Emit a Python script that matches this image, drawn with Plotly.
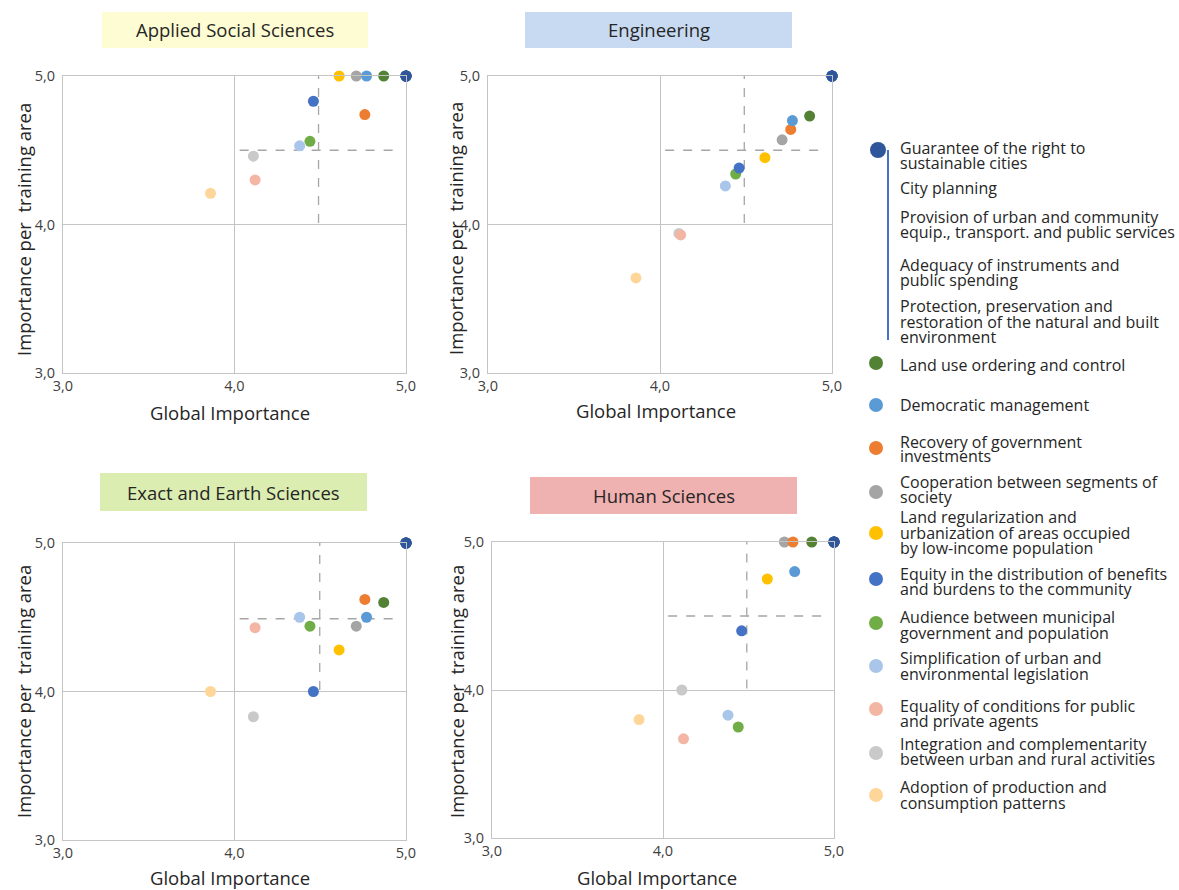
import plotly.graph_objects as go

W, H = 1179, 890

# ---------------- data ----------------
topics = [
    "Guarantee of the right to sustainable cities",
    "City planning",
    "Provision of urban and community equip., transport. and public services",
    "Adequacy of instruments and public spending",
    "Protection, preservation and restoration of the natural and built environment",
    "Land use ordering and control",
    "Democratic management",
    "Recovery of government investments",
    "Cooperation between segments of society",
    "Land regularization and urbanization of areas occupied by low-income population",
    "Equity in the distribution of benefits and burdens to the community",
    "Audience between municipal government and population",
    "Simplification of urban and environmental legislation",
    "Equality of conditions for public and private agents",
    "Integration and complementarity between urban and rural activities",
    "Adoption of production and consumption patterns",
]
colors = [
    "#2F559A", "#2F559A", "#2F559A", "#2F559A", "#2F559A",
    "#548235", "#5B9BD5", "#ED7D31", "#A5A5A5", "#FFC000",
    "#4472C4", "#70AD47", "#A9C6EA", "#F4B6A4", "#C9C9C9", "#FFD699",
]
global_importance = [5.0, 5.0, 5.0, 5.0, 5.0,
                     4.87, 4.77, 4.76, 4.71, 4.61, 4.46, 4.44, 4.38, 4.12, 4.11, 3.86]

areas = ["Applied Social Sciences", "Engineering", "Exact and Earth Sciences", "Human Sciences"]
area_fill = ["#FEFCD3", "#C7DAF1", "#DCEDB2", "#F0B1B1"]
area_importance = [
    [5.0, 5.0, 5.0, 5.0, 5.0, 5.00, 5.00, 4.74, 5.00, 5.00, 4.83, 4.56, 4.53, 4.30, 4.46, 4.21],
    [5.0, 5.0, 5.0, 5.0, 5.0, 4.73, 4.70, 4.64, 4.57, 4.45, 4.38, 4.34, 4.26, 3.93, 3.94, 3.64],
    [5.0, 5.0, 5.0, 5.0, 5.0, 4.60, 4.50, 4.62, 4.44, 4.28, 4.00, 4.44, 4.50, 4.43, 3.83, 4.00],
    [5.0, 5.0, 5.0, 5.0, 5.0, 5.00, 4.80, 5.00, 5.00, 4.75, 4.40, 3.75, 3.83, 3.67, 4.00, 3.80],
]
# reference (mean) lines per panel
ref_x = [4.49, 4.49, 4.497, 4.49]
ref_y = [4.50, 4.50, 4.49, 4.50]
ref_v_span = [4.01, 5.0]
ref_h_span = [4.03, 4.96]

tick_vals = [3, 4, 5]
tick_text = ["3,0", "4,0", "5,0"]

legend_lines = [
    ["Guarantee of the right to", "sustainable cities"],
    ["City planning"],
    ["Provision of urban and community", "equip., transport. and public services"],
    ["Adequacy of instruments and", "public spending"],
    ["Protection, preservation and", "restoration of the natural and built", "environment"],
    ["Land use ordering and control"],
    ["Democratic management"],
    ["Recovery of government", "investments"],
    ["Cooperation between segments of", "society"],
    ["Land regularization and", "urbanization of areas occupied", "by low-income population"],
    ["Equity in the distribution of benefits", "and burdens to the community"],
    ["Audience between municipal", "government and population"],
    ["Simplification of urban and", "environmental legislation"],
    ["Equality of conditions for public", "and private agents"],
    ["Integration and complementarity", "between urban and rural activities"],
    ["Adoption of production and", "consumption patterns"],
]

# ---------------- layout geometry (pixels) ----------------
panel_px = [  # x0, x1, y_top, y_bottom
    (63, 406, 76, 373),
    (488, 832, 76, 373),
    (63, 406, 543, 840),
    (492, 834, 542, 838),
]
title_box_px = [  # x0, x1, y0, y1
    (102, 368, 12, 48),
    (525, 792, 12, 48),
    (100, 367, 473, 511),
    (530, 797, 477, 514),
]
xtitle_px = [(230, 412), (656, 410), (230, 877), (657, 877.5)]
ytitle_px = [(24, 230), (455, 229), (23, 692), (456, 692)]

legend_line_y = [
    [148, 163], [188], [217, 232], [265, 280], [306, 322, 337],
    [365], [405], [442, 456], [482, 497], [517, 533, 548],
    [574, 589], [617, 633], [658, 674], [706, 721], [744, 759], [787, 803],
]
legend_marker_y = [150, None, None, None, None,
                   363, 405, 448, 492, 533, 579, 623, 666, 709, 753, 795]
legend_text_x = 898
legend_marker_x = 876

FONT = "Open Sans"
TXT = "#262626"


def px_x(v):
    return v / W


def px_y(v):
    return 1 - v / H


fig = go.Figure()

layout_axes = {}
for i in range(4):
    ax = "" if i == 0 else str(i + 1)
    x0, x1, yt, yb = panel_px[i]
    common = dict(
        range=[3, 5], tickvals=tick_vals, ticktext=tick_text,
        showgrid=True, gridcolor="#C4C4C4", gridwidth=1,
        showline=True, linecolor="#C4C4C4", linewidth=1, mirror=True,
        zeroline=False, ticks="", fixedrange=True, automargin=False,
        tickfont=dict(family=FONT, size=14.5, color="#404040"),
    )
    layout_axes["xaxis" + ax] = dict(common, domain=[px_x(x0), px_x(x1)],
                                     anchor="y" + ax)
    layout_axes["yaxis" + ax] = dict(common, domain=[px_y(yb), px_y(yt)],
                                     anchor="x" + ax, ticklabelstandoff=4)

    # reference dashed lines
    fig.add_trace(go.Scatter(
        x=[ref_x[i], ref_x[i]], y=ref_v_span, mode="lines",
        line=dict(color="#A6A6A6", width=1.3, dash="dash"),
        xaxis="x" + ax, yaxis="y" + ax, showlegend=False, hoverinfo="skip"))
    fig.add_trace(go.Scatter(
        x=ref_h_span, y=[ref_y[i], ref_y[i]], mode="lines",
        line=dict(color="#A6A6A6", width=1.3, dash="dash"),
        xaxis="x" + ax, yaxis="y" + ax, showlegend=False, hoverinfo="skip"))

    # points (draw in reverse so the top-listed topics are on top)
    for k in reversed(range(len(topics))):
        fig.add_trace(go.Scatter(
            x=[global_importance[k]], y=[area_importance[i][k]],
            mode="markers", name=topics[k],
            marker=dict(size=11, color=colors[k], line=dict(width=0)),
            xaxis="x" + ax, yaxis="y" + ax, showlegend=False,
            cliponaxis=False))

shapes = []
annotations = []
for i in range(4):
    bx0, bx1, by0, by1 = title_box_px[i]
    shapes.append(dict(type="rect", xref="paper", yref="paper",
                       x0=px_x(bx0), x1=px_x(bx1), y0=px_y(by1), y1=px_y(by0),
                       fillcolor=area_fill[i], line=dict(width=0), layer="below"))
    annotations.append(dict(xref="paper", yref="paper",
                            x=px_x((bx0 + bx1) / 2), y=px_y((by0 + by1) / 2),
                            text=areas[i], showarrow=False,
                            xanchor="center", yanchor="middle",
                            font=dict(family=FONT, size=18.5, color=TXT)))
    tx, ty = xtitle_px[i]
    annotations.append(dict(xref="paper", yref="paper", x=px_x(tx), y=px_y(ty),
                            text="Global Importance", showarrow=False,
                            xanchor="center", yanchor="middle",
                            font=dict(family=FONT, size=18.5, color=TXT)))
    yx, yy = ytitle_px[i]
    annotations.append(dict(xref="paper", yref="paper", x=px_x(yx), y=px_y(yy),
                            text="Importance per &nbsp;training area", showarrow=False,
                            textangle=-90, xanchor="center", yanchor="middle",
                            font=dict(family=FONT, size=18.5, color=TXT)))

# custom legend
for k, lines in enumerate(legend_lines):
    for line, ly in zip(lines, legend_line_y[k]):
        annotations.append(dict(xref="paper", yref="paper",
                                x=px_x(legend_text_x), y=px_y(ly),
                                text=line, showarrow=False,
                                xanchor="left", yanchor="middle",
                                font=dict(family=FONT, size=16, color=TXT)))
    my = legend_marker_y[k]
    if my is not None:
        r = 8 if k == 0 else 7
        shapes.append(dict(type="circle", xref="paper", yref="paper",
                           xsizemode="pixel", ysizemode="pixel",
                           xanchor=px_x(legend_marker_x + (2 if k == 0 else 0)),
                           yanchor=px_y(my),
                           x0=-r, x1=r, y0=-r, y1=r,
                           fillcolor=colors[k], line=dict(width=0)))
# bracket line for the grouped first five topics
shapes.append(dict(type="line", xref="paper", yref="paper",
                   x0=px_x(888), x1=px_x(888), y0=px_y(150), y1=px_y(340),
                   line=dict(color="#4472C4", width=2)))

fig.update_layout(
    width=W, height=H,
    margin=dict(l=0, r=0, t=0, b=0, autoexpand=False),
    paper_bgcolor="white", plot_bgcolor="white",
    showlegend=False,
    shapes=shapes, annotations=annotations,
    **layout_axes,
)

fig.write_html(
    "out.html",
    config=dict(displayModeBar=False),
    post_script="document.body.style.margin='0';"
                "document.body.style.overflow='hidden';"
                "document.documentElement.style.overflow='hidden';",
)
